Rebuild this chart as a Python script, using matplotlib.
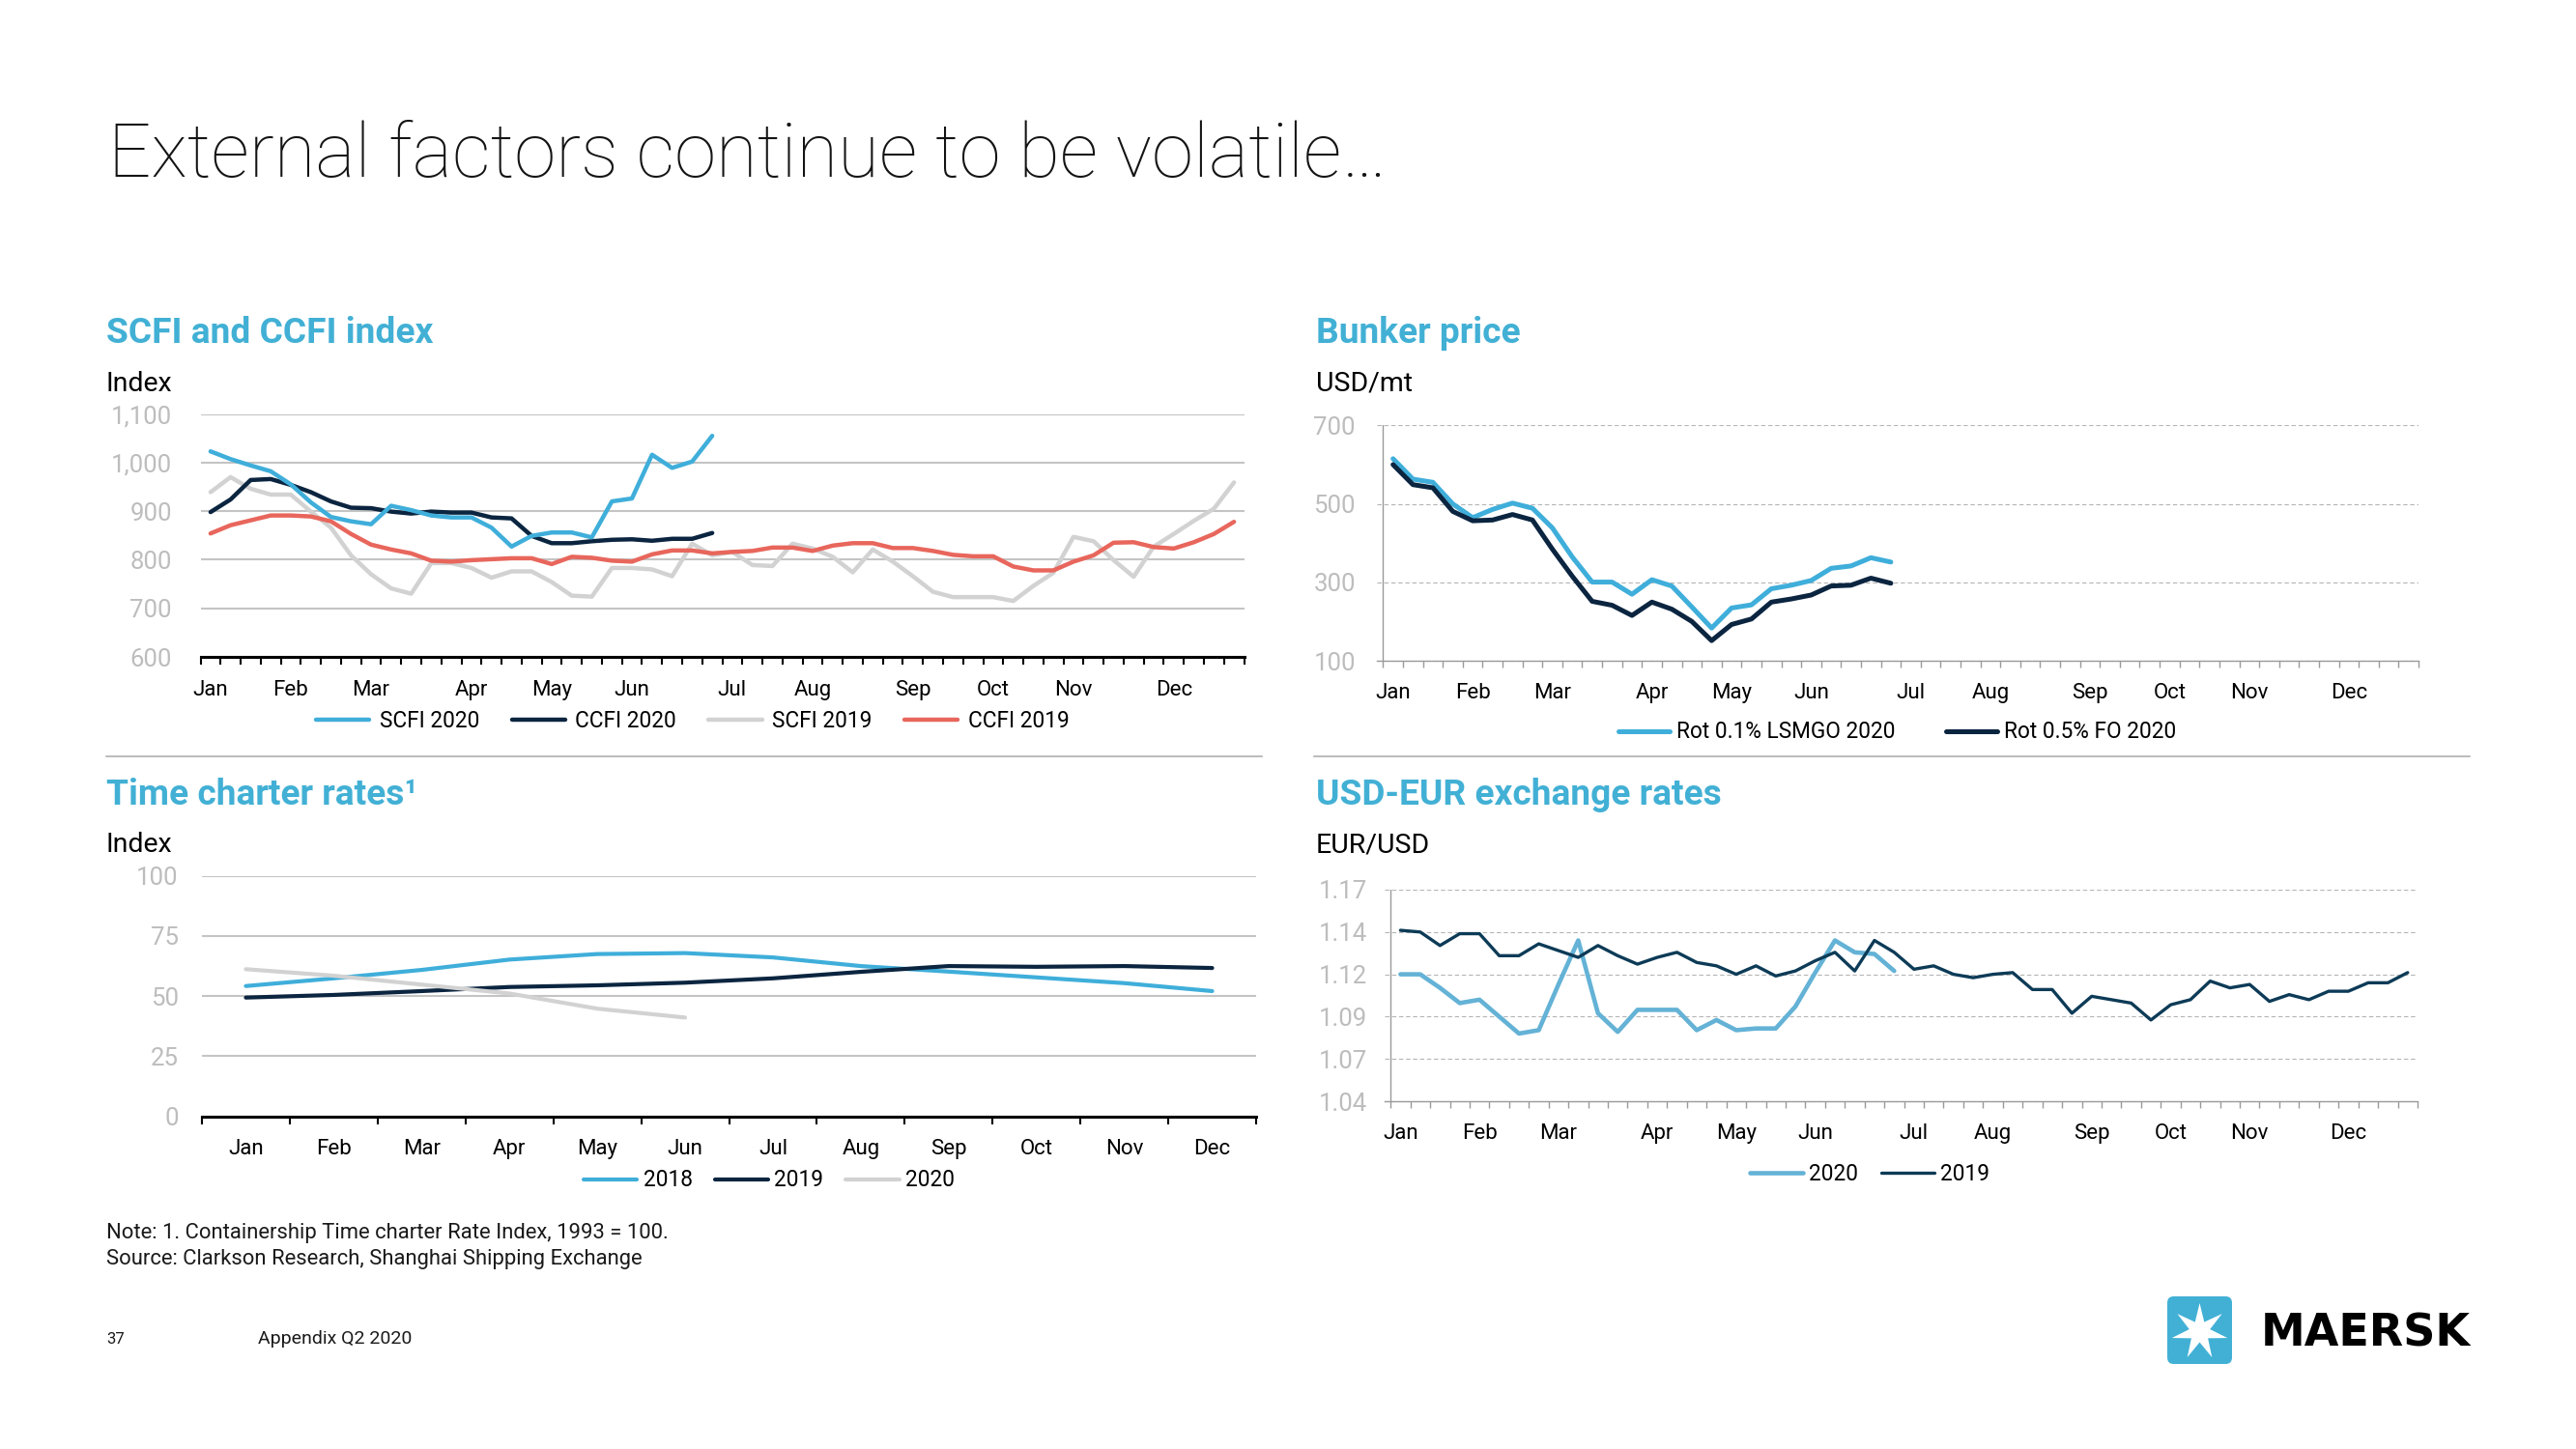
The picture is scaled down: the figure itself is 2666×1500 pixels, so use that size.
import numpy as np
import matplotlib
matplotlib.use("Agg")
import matplotlib.pyplot as plt
from matplotlib.lines import Line2D
from matplotlib.patches import FancyBboxPatch, Polygon

# ------------------------------------------------------------------ data
month_labels = ["Jan", "Feb", "Mar", "Apr", "May", "Jun",
                "Jul", "Aug", "Sep", "Oct", "Nov", "Dec"]
month_start_week = [0, 4, 8, 13, 17, 21, 26, 30, 35, 39, 43, 48]
n_weeks = 52

# SCFI / CCFI index (weekly)
scfi_2020 = [1023, 1007, 994, 982, 955, 918, 888, 879, 873, 911, 902, 891, 887,
             887, 866, 827, 849, 856, 856, 846, 920, 926, 1016, 989, 1002, 1055]
ccfi_2020 = [898, 924, 964, 966, 954, 939, 920, 907, 906, 899, 895, 899, 897,
             897, 887, 885, 849, 834, 834, 838, 841, 842, 839, 843, 843, 855]
scfi_2019 = [939, 970, 946, 934, 934, 899, 866, 809, 770, 741, 730, 793, 793,
             783, 763, 776, 776, 754, 726, 724, 783, 783, 780, 766, 833,
             809, 816, 789, 787, 833, 823, 806, 774, 821, 796, 766, 734, 723,
             723, 723, 715, 746, 773, 847, 838, 799, 765, 827, 853, 880, 905, 959]
ccfi_2019 = [854, 871, 881, 891, 891, 889, 879, 853, 831, 821, 813, 798, 796,
             799, 801, 803, 803, 791, 806, 804, 798, 796, 811, 819, 819,
             813, 816, 818, 825, 825, 818, 829, 834, 834, 824, 824, 818, 810,
             807, 807, 786, 778, 778, 796, 809, 835, 836, 826, 823, 836, 853, 878]
scfi_yticks = [600, 700, 800, 900, 1000, 1100]
scfi_ylabels = ["600", "700", "800", "900", "1,000", "1,100"]

# Bunker price (USD/mt, weekly)
lsmgo_2020 = [615, 563, 555, 500, 465, 486, 502, 489, 439, 365, 301, 301, 270,
              307, 291, 238, 184, 235, 243, 284, 293, 305, 336, 342, 363, 352]
fo_2020 = [600, 549, 541, 481, 457, 459, 473, 459, 385, 316, 252, 242, 216,
           250, 232, 201, 152, 193, 207, 250, 258, 268, 291, 293, 311, 298]
bunker_yticks = [100, 300, 500, 700]
bunker_ylabels = ["100", "300", "500", "700"]

# Time charter rate index (monthly)
tc_2018 = [54.2, 57.4, 60.9, 65.2, 67.5, 67.9, 66.1, 62.5, 60.2, 57.8, 55.4, 52.1]
tc_2019 = [49.4, 50.5, 52.1, 53.8, 54.5, 55.6, 57.4, 60.1, 62.5, 62.2, 62.5, 61.7]
tc_2020 = [61.2, 58.5, 54.8, 51.1, 44.8, 41.1]
tc_yticks = [0, 25, 50, 75, 100]
tc_ylabels = ["0", "25", "50", "75", "100"]

# USD-EUR exchange rate (weekly)
fx_2020 = [1.115, 1.115, 1.107, 1.098, 1.100, 1.090, 1.080, 1.082, 1.109, 1.135,
           1.092, 1.081, 1.094, 1.094, 1.094, 1.082, 1.088, 1.082, 1.083, 1.083,
           1.096, 1.116, 1.135, 1.128, 1.127, 1.117]
fx_2019 = [1.141, 1.140, 1.132, 1.139, 1.139, 1.126, 1.126, 1.133, 1.129, 1.125,
           1.132, 1.126, 1.121, 1.125, 1.128, 1.122, 1.120, 1.115, 1.120, 1.114,
           1.117, 1.123, 1.128, 1.117, 1.135, 1.128,
           1.118, 1.120, 1.115, 1.113, 1.115, 1.116, 1.106, 1.106, 1.092, 1.102,
           1.100, 1.098, 1.088, 1.097, 1.100, 1.111, 1.107, 1.109, 1.099, 1.103,
           1.100, 1.105, 1.105, 1.110, 1.110, 1.116]
fx_yticks = [1.04, 1.065, 1.09, 1.115, 1.14, 1.165]
fx_ylabels = ["1.04", "1.07", "1.09", "1.12", "1.14", "1.17"]

# ------------------------------------------------------------------ style
W, H = 2666, 1500
PT = 72 / 100.0          # points per pixel at dpi 100
BLUE = "#3FAEDA"
NAVY = "#0B2540"
LGRAY = "#D2D2D2"
RED = "#E8665C"
FXBLUE = "#64B2D6"
FXNAVY = "#0D3B57"
GRID = "#C4C4C4"
TICKGRAY = "#BDBDBD"
AXGRAY = "#9A9A9A"
TITLEBLUE = "#42B0D5"
YTICK_FS = 18.5
XTICK_FS = 16
LEG_FS = 16.3
UNIT_FS = 20.5

plt.rcParams["font.family"] = ["Roboto", "DejaVu Sans"]

fig = plt.figure(figsize=(W / 100, H / 100), dpi=100)
fig.patch.set_facecolor("white")
renderer = fig.canvas.get_renderer()


def axes_px(x0, ytop, x1, ybot):
    return fig.add_axes([x0 / W, 1 - ybot / H, (x1 - x0) / W, (ybot - ytop) / H])


def ftext(x, y, s, **kw):
    return fig.text(x / W, 1 - y / H, s, **kw)


def style(ax, xlim, ylim, yticks, ylabels, ypad, xmajor, xlabels, xminor, xpad,
          axis_color, axis_lw, tick_len, tick_w, grid_kw):
    ax.set_xlim(*xlim)
    ax.set_ylim(*ylim)
    for s in ("top", "right", "left"):
        ax.spines[s].set_visible(False)
    ax.spines["bottom"].set_color(axis_color)
    ax.spines["bottom"].set_linewidth(axis_lw)
    ax.spines["bottom"].set_zorder(6)
    ax.set_yticks(yticks)
    ax.set_yticklabels(ylabels)
    ax.tick_params(axis="y", length=0, pad=ypad * PT, labelsize=YTICK_FS,
                   labelcolor=TICKGRAY)
    ax.set_xticks(xmajor)
    ax.set_xticklabels(xlabels)
    ax.set_xticks(xminor, minor=True)
    ax.tick_params(axis="x", which="major", length=0, pad=xpad * PT,
                   labelsize=XTICK_FS, labelcolor="black")
    ax.tick_params(axis="x", which="minor", length=tick_len * PT, width=tick_w,
                   color=axis_color, direction="out")
    ax.yaxis.grid(True, **grid_kw)
    ax.set_axisbelow(True)
    ax.patch.set_alpha(0)


def legend_at(ax, x, y, hl, tp, cs, ncol):
    leg = ax.legend(loc="center left", bbox_to_anchor=(x / W, 1 - y / H),
                    bbox_transform=fig.transFigure, ncol=ncol, frameon=False,
                    fontsize=LEG_FS, handlelength=hl, handletextpad=tp,
                    columnspacing=cs, borderpad=0, borderaxespad=0)
    return leg


line_kw = dict(solid_joinstyle="round", solid_capstyle="round")
week_major = np.array(month_start_week) + 0.5
week_minor = np.arange(n_weeks + 1)
hl_scale = 15.0 / LEG_FS

# ------------------------------------------------------------------ SCFI / CCFI
ax1 = axes_px(207.5, 428.5, 1287.5, 680)
style(ax1, (0, n_weeks), (600, 1100), scfi_yticks, scfi_ylabels, 29.7,
      week_major, month_labels, week_minor, 24, "black", 2.2, 8, 1.5,
      dict(color=GRID, lw=1.5, ls="-"))
ax1.plot(np.arange(len(scfi_2020)) + 0.5, scfi_2020, color=BLUE, lw=3.2,
         label="SCFI 2020", zorder=5, **line_kw)
ax1.plot(np.arange(len(ccfi_2020)) + 0.5, ccfi_2020, color=NAVY, lw=3.2,
         label="CCFI 2020", zorder=4, **line_kw)
ax1.plot(np.arange(len(scfi_2019)) + 0.5, scfi_2019, color=LGRAY, lw=3.2,
         label="SCFI 2019", zorder=2, **line_kw)
ax1.plot(np.arange(len(ccfi_2019)) + 0.5, ccfi_2019, color=RED, lw=3.2,
         label="CCFI 2019", zorder=3, **line_kw)
legend_at(ax1, 327, 746, 2.66 * hl_scale, 0.5 * hl_scale, 1.6 * hl_scale, 4)

# ------------------------------------------------------------------ Bunker
ax2 = axes_px(1424.5, 440.3, 2503, 684.3)
style(ax2, (-0.335, n_weeks), (100, 700), bunker_yticks, bunker_ylabels, 21.5,
      week_major, month_labels, week_minor, 23, AXGRAY, 1.0, 7, 1.0,
      dict(color="#B5B5B5", lw=0.8, ls=(0, (4, 2.5))))
ax2.axvline(0, color=AXGRAY, lw=1.0, zorder=1)
ax2.plot(np.arange(len(lsmgo_2020)) + 0.5, lsmgo_2020, color=BLUE, lw=3.6,
         label="Rot 0.1% LSMGO 2020", zorder=3, **line_kw)
ax2.plot(np.arange(len(fo_2020)) + 0.5, fo_2020, color=NAVY, lw=3.6,
         label="Rot 0.5% FO 2020", zorder=4, **line_kw)
legend_at(ax2, 1675, 758, 2.55 * hl_scale, 0.35 * hl_scale, 2.5 * hl_scale, 2)

# ------------------------------------------------------------------ Time charter
ax3 = axes_px(209, 906.7, 1300, 1155.7)
style(ax3, (0, 12), (0, 100), tc_yticks, tc_ylabels, 24.3,
      np.arange(12) + 0.5, month_labels, np.arange(13), 23, "black", 2.2, 8, 1.5,
      dict(color=GRID, lw=1.5, ls="-"))
ax3.plot(np.arange(len(tc_2018)) + 0.5, tc_2018, color=BLUE, lw=3.0,
         label="2018", zorder=3, **line_kw)
ax3.plot(np.arange(len(tc_2019)) + 0.5, tc_2019, color=NAVY, lw=3.0,
         label="2019", zorder=4, **line_kw)
ax3.plot(np.arange(len(tc_2020)) + 0.5, tc_2020, color=LGRAY, lw=3.0,
         label="2020", zorder=5, **line_kw)
legend_at(ax3, 604, 1222, 2.66 * hl_scale, 0.3 * hl_scale, 1.1 * hl_scale, 3)

# ------------------------------------------------------------------ USD-EUR
ax4 = axes_px(1433, 921, 2502, 1140)
style(ax4, (-0.303, n_weeks), (1.04, 1.165), fx_yticks, fx_ylabels, 17.5,
      week_major, month_labels, week_minor, 23, AXGRAY, 1.0, 7, 1.0,
      dict(color="#B5B5B5", lw=0.8, ls=(0, (4, 2.5))))
ax4.axvline(0, color=AXGRAY, lw=1.0, zorder=1)
ax4.plot(np.arange(len(fx_2020)) + 0.5, fx_2020, color=FXBLUE, lw=3.3,
         label="2020", zorder=3, **line_kw)
ax4.plot(np.arange(len(fx_2019)) + 0.5, fx_2019, color=FXNAVY, lw=2.4,
         label="2019", zorder=4, **line_kw)
legend_at(ax4, 1811, 1215, 2.64 * hl_scale, 0.3 * hl_scale, 1.15 * hl_scale, 2)

# ------------------------------------------------------------------ texts
title = ftext(112, 183, "External factors continue to be volatile\u2026",
              fontsize=52, fontweight="light", color="#141414", va="baseline")
tb = title.get_window_extent(renderer)
title.set_fontsize(52 * 1325 / tb.width)

sec_specs = [(110, 355, "SCFI and CCFI index", 327),
             (1362, 355, "Bunker price", 216),
             (110, 833, "Time charter rates\u00b9", 323),
             (1362, 833, "USD-EUR exchange rates", 424)]
sec_texts = []
ratios = []
for x, y, s, wt in sec_specs:
    t = ftext(x, y, s, fontsize=25, fontweight="bold", color=TITLEBLUE,
              va="baseline")
    ratios.append(wt / t.get_window_extent(renderer).width)
    sec_texts.append(t)
for t in sec_texts:
    t.set_fontsize(25 * float(np.mean(ratios)))

for x, y, s in [(110, 405, "Index"), (1362, 405, "USD/mt"),
                (110, 882, "Index"), (1362, 882, "EUR/USD")]:
    ftext(x, y, s, fontsize=UNIT_FS, color="black", va="baseline")

# divider lines
fig.add_artist(Line2D([110 / W, 1306 / W], [1 - 783 / H] * 2, color="#A8A8A8",
                      lw=1.1))
fig.add_artist(Line2D([1360 / W, 2556 / W], [1 - 783 / H] * 2, color="#A8A8A8",
                      lw=1.1))

# footer notes
note = ftext(110, 1282, "Note: 1. Containership Time charter Rate Index, 1993 = 100.",
             fontsize=14, color="#1a1a1a", va="baseline")
r = 585 / note.get_window_extent(renderer).width
note.set_fontsize(14 * r)
ftext(110, 1309, "Source: Clarkson Research, Shanghai Shipping Exchange",
      fontsize=14 * r, color="#1a1a1a", va="baseline")
ftext(110, 1391, "37", fontsize=12, color="#1a1a1a", va="baseline")
app = ftext(267, 1391, "Appendix Q2 2020", fontsize=12, color="#1a1a1a",
            va="baseline")
app.set_fontsize(12 * 158 / app.get_window_extent(renderer).width)

# ------------------------------------------------------------------ logo
sq_x0, sq_y0, sq_x1, sq_y1 = 2243, 1342, 2310, 1412
box = FancyBboxPatch((sq_x0 / W, 1 - sq_y1 / H), (sq_x1 - sq_x0) / W,
                     (sq_y1 - sq_y0) / H,
                     boxstyle="round,pad=0,rounding_size=0.0025",
                     transform=fig.transFigure, facecolor=TITLEBLUE,
                     edgecolor="none", mutation_aspect=W / H)
fig.add_artist(box)
cx, cy, R, r_in = 2276.5, 1378.5, 29.5, 11.0
pts = []
for k in range(14):
    ang = np.pi / 2 + k * np.pi / 7
    rad = R if k % 2 == 0 else r_in
    px = cx + rad * np.cos(ang)
    py = cy - rad * np.sin(ang)
    pts.append((px / W, 1 - py / H))
fig.add_artist(Polygon(pts, closed=True, transform=fig.transFigure,
                       facecolor="white", edgecolor="none"))
logo = ftext(2340, 1393, "MAERSK", fontsize=30, fontweight="bold",
             family=["DejaVu Sans"], color="black", va="baseline")
logo.set_fontsize(30 * 217 / logo.get_window_extent(renderer).width)

fig.savefig("out.png", dpi=100, facecolor="white")
